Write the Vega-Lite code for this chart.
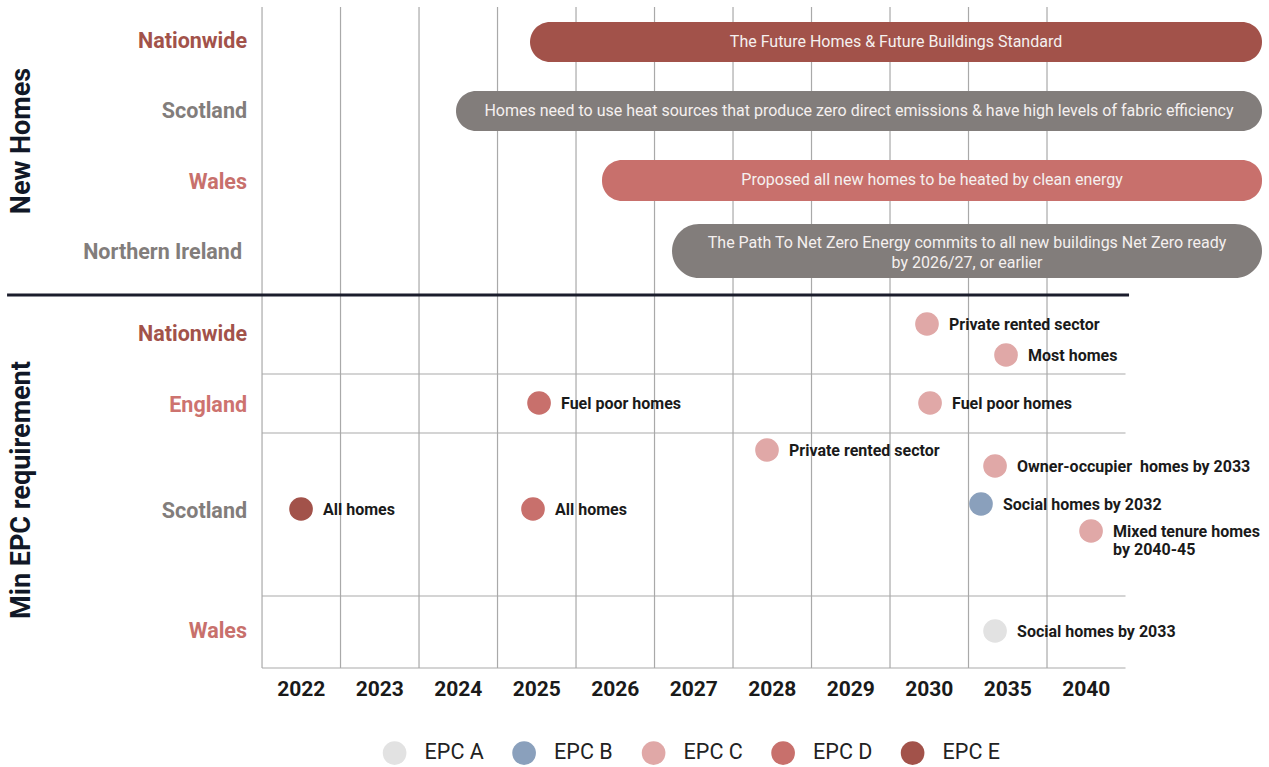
{
  "$schema": "https://vega.github.io/schema/vega-lite/v6.json",
  "width": 1269,
  "height": 767,
  "autosize": {"type": "fit", "contains": "padding"},
  "padding": 0,
  "background": "white",
  "config": {"view": {"stroke": null}, "font": "Roboto"},
  "datasets": {
    "rules": [
      {"kind": "grid", "x": 0, "x2": 0, "y": 7, "y2": 668},
      {"kind": "grid", "x": 1, "x2": 1, "y": 7, "y2": 668},
      {"kind": "grid", "x": 2, "x2": 2, "y": 7, "y2": 668},
      {"kind": "grid", "x": 3, "x2": 3, "y": 7, "y2": 668},
      {"kind": "grid", "x": 4, "x2": 4, "y": 7, "y2": 668},
      {"kind": "grid", "x": 5, "x2": 5, "y": 7, "y2": 668},
      {"kind": "grid", "x": 6, "x2": 6, "y": 7, "y2": 668},
      {"kind": "grid", "x": 7, "x2": 7, "y": 7, "y2": 668},
      {"kind": "grid", "x": 8, "x2": 8, "y": 7, "y2": 668},
      {"kind": "grid", "x": 9, "x2": 9, "y": 7, "y2": 668},
      {"kind": "grid", "x": 10, "x2": 10, "y": 7, "y2": 668},
      {"kind": "grid", "x": 0, "x2": 11, "y": 374, "y2": 374},
      {"kind": "grid", "x": 0, "x2": 11, "y": 433, "y2": 433},
      {"kind": "grid", "x": 0, "x2": 11, "y": 596, "y2": 596},
      {"kind": "grid", "x": 0, "x2": 11, "y": 668, "y2": 668},
      {"kind": "divider", "x": -3.248, "x2": 11.045, "y": 295, "y2": 295}
    ],
    "bars": [
      {"region": "Nationwide", "start": 3.414, "end": 12.739, "top": 22, "bottom": 62, "label": "The Future Homes & Future Buildings Standard"},
      {"region": "Scotland", "start": 2.471, "end": 12.739, "top": 91, "bottom": 131, "label": "Homes need to use heat sources that produce zero direct emissions & have high levels of fabric efficiency"},
      {"region": "Wales", "start": 4.331, "end": 12.739, "top": 160, "bottom": 201, "label": "Proposed all new homes to be heated by clean energy"},
      {"region": "Northern Ireland", "start": 5.223, "end": 12.739, "top": 224, "bottom": 278, "label": "The Path To Net Zero Energy commits to all new buildings Net Zero ready\nby 2026/27, or earlier"}
    ],
    "points": [
      {"region": "Nationwide", "x": 8.471, "y": 324, "epc": "EPC C", "label": "Private rented sector"},
      {"region": "Nationwide", "x": 9.478, "y": 355, "epc": "EPC C", "label": "Most homes"},
      {"region": "England", "x": 3.529, "y": 403, "epc": "EPC D", "label": "Fuel poor homes"},
      {"region": "England", "x": 8.51, "y": 403, "epc": "EPC C", "label": "Fuel poor homes"},
      {"region": "Scotland", "x": 6.433, "y": 450, "epc": "EPC C", "label": "Private rented sector"},
      {"region": "Scotland", "x": 9.338, "y": 466, "epc": "EPC C", "label": "Owner-occupier\u00a0 homes by 2033"},
      {"region": "Scotland", "x": 9.159, "y": 504, "epc": "EPC B", "label": "Social homes by 2032"},
      {"region": "Scotland", "x": 10.561, "y": 531, "epc": "EPC C", "label": "Mixed tenure homes\nby 2040-45"},
      {"region": "Scotland", "x": 0.497, "y": 509, "epc": "EPC E", "label": "All homes"},
      {"region": "Scotland", "x": 3.452, "y": 509, "epc": "EPC D", "label": "All homes"},
      {"region": "Wales", "x": 9.338, "y": 631, "epc": "EPC A", "label": "Social homes by 2033"}
    ],
    "rowlabels": [
      {"region": "Nationwide", "x": -0.191, "y": 41},
      {"region": "Scotland", "x": -0.191, "y": 111},
      {"region": "Wales", "x": -0.191, "y": 182},
      {"region": "Northern Ireland", "x": -0.255, "y": 252},
      {"region": "Nationwide", "x": -0.191, "y": 334},
      {"region": "England", "x": -0.191, "y": 405},
      {"region": "Scotland", "x": -0.191, "y": 511},
      {"region": "Wales", "x": -0.191, "y": 631}
    ],
    "years": [
      {"year": "2022", "x": 0.5, "y": 690},
      {"year": "2023", "x": 1.5, "y": 690},
      {"year": "2024", "x": 2.5, "y": 690},
      {"year": "2025", "x": 3.5, "y": 690},
      {"year": "2026", "x": 4.5, "y": 690},
      {"year": "2027", "x": 5.5, "y": 690},
      {"year": "2028", "x": 6.5, "y": 690},
      {"year": "2029", "x": 7.5, "y": 690},
      {"year": "2030", "x": 8.5, "y": 690},
      {"year": "2035", "x": 9.5, "y": 690},
      {"year": "2040", "x": 10.5, "y": 690}
    ],
    "groups": [
      {"title": "New Homes", "x": -3.057, "y": 141},
      {"title": "Min EPC requirement", "x": -3.057, "y": 490}
    ]
  },
  "layer": [
    {
      "data": {"name": "rules"},
      "transform": [{"filter": "datum.kind === 'grid'"}],
      "mark": {"type": "rule", "color": "#a9a9a9", "strokeWidth": 1.2},
      "encoding": {
        "x": {"field": "x", "type": "quantitative", "scale": {"domain": [-3.338, 12.828], "nice": false, "zero": false}, "axis": null},
        "x2": {"field": "x2"},
        "y": {"field": "y", "type": "quantitative", "scale": {"domain": [0, 767], "reverse": true, "nice": false, "zero": false}, "axis": null},
        "y2": {"field": "y2"}
      }
    },
    {
      "data": {"name": "rules"},
      "transform": [{"filter": "datum.kind === 'divider'"}],
      "mark": {"type": "rule", "color": "#1b1d2c", "strokeWidth": 3},
      "encoding": {
        "x": {"field": "x", "type": "quantitative", "scale": {"domain": [-3.338, 12.828], "nice": false, "zero": false}, "axis": null},
        "x2": {"field": "x2"},
        "y": {"field": "y", "type": "quantitative", "scale": {"domain": [0, 767], "reverse": true, "nice": false, "zero": false}, "axis": null},
        "y2": {"field": "y2"}
      }
    },
    {
      "data": {"name": "bars"},
      "transform": [{"filter": "datum.region !== 'Northern Ireland'"}],
      "mark": {"type": "rect", "cornerRadius": 20},
      "encoding": {
        "x": {"field": "start", "type": "quantitative", "scale": {"domain": [-3.338, 12.828], "nice": false, "zero": false}, "axis": null},
        "x2": {"field": "end"},
        "y": {"field": "top", "type": "quantitative", "scale": {"domain": [0, 767], "reverse": true, "nice": false, "zero": false}, "axis": null},
        "y2": {"field": "bottom"},
        "fill": {"field": "region", "type": "nominal", "legend": null, "scale": {"domain": ["Nationwide", "Scotland", "Wales", "Northern Ireland", "England"], "range": ["#a2524a", "#827d7b", "#c8706c", "#827d7b", "#cd736f"]}}
      }
    },
    {
      "data": {"name": "bars"},
      "transform": [{"filter": "datum.region === 'Northern Ireland'"}],
      "mark": {"type": "rect", "cornerRadius": 27},
      "encoding": {
        "x": {"field": "start", "type": "quantitative", "scale": {"domain": [-3.338, 12.828], "nice": false, "zero": false}, "axis": null},
        "x2": {"field": "end"},
        "y": {"field": "top", "type": "quantitative", "scale": {"domain": [0, 767], "reverse": true, "nice": false, "zero": false}, "axis": null},
        "y2": {"field": "bottom"},
        "fill": {"field": "region", "type": "nominal", "legend": null}
      }
    },
    {
      "data": {"name": "bars"},
      "transform": [
        {"filter": "datum.region !== 'Northern Ireland'"},
        {"calculate": "(datum.start + datum.end) / 2", "as": "mid"},
        {"calculate": "(datum.top + datum.bottom) / 2", "as": "midy"}
      ],
      "mark": {"type": "text", "font": "Roboto", "fontSize": 16, "color": "#f5f0ef", "align": "center", "baseline": "middle", "dy": -0.5},
      "encoding": {
        "x": {"field": "mid", "type": "quantitative", "scale": {"domain": [-3.338, 12.828], "nice": false, "zero": false}, "axis": null},
        "y": {"field": "midy", "type": "quantitative", "scale": {"domain": [0, 767], "reverse": true, "nice": false, "zero": false}, "axis": null},
        "text": {"field": "label"}
      }
    },
    {
      "data": {"name": "bars"},
      "transform": [
        {"filter": "datum.region === 'Northern Ireland'"},
        {"calculate": "(datum.start + datum.end) / 2", "as": "mid"},
        {"calculate": "(datum.top + datum.bottom) / 2", "as": "midy"}
      ],
      "mark": {"type": "text", "font": "Roboto", "fontSize": 16, "color": "#f5f0ef", "align": "center", "baseline": "middle", "lineBreak": "\n", "lineHeight": 20, "dy": -8},
      "encoding": {
        "x": {"field": "mid", "type": "quantitative", "scale": {"domain": [-3.338, 12.828], "nice": false, "zero": false}, "axis": null},
        "y": {"field": "midy", "type": "quantitative", "scale": {"domain": [0, 767], "reverse": true, "nice": false, "zero": false}, "axis": null},
        "text": {"field": "label"}
      }
    },
    {
      "data": {"name": "points"},
      "mark": {"type": "point", "filled": true, "opacity": 1, "size": 560, "shape": "circle"},
      "encoding": {
        "x": {"field": "x", "type": "quantitative", "scale": {"domain": [-3.338, 12.828], "nice": false, "zero": false}, "axis": null},
        "y": {"field": "y", "type": "quantitative", "scale": {"domain": [0, 767], "reverse": true, "nice": false, "zero": false}, "axis": null},
        "color": {
          "field": "epc", "type": "nominal",
          "scale": {"domain": ["EPC A", "EPC B", "EPC C", "EPC D", "EPC E"], "range": ["#e2e2e2", "#8aa0bc", "#e0a8a7", "#c8706c", "#a2524a"]},
          "legend": {
            "title": null, "orient": "none", "legendX": 382.6, "legendY": 741, "direction": "horizontal", "columns": 5,
            "gridAlign": "all", "columnPadding": 27.5, "padding": 0,
            "symbolType": "circle", "symbolSize": 560, "symbolStrokeWidth": 0, "symbolOpacity": 1,
            "labelFont": "Roboto", "labelFontSize": 21.5, "labelColor": "#222222", "labelOffset": 18
          }
        }
      }
    },
    {
      "data": {"name": "points"},
      "mark": {"type": "text", "font": "Roboto", "fontWeight": "bold", "fontSize": 16, "color": "#1a1a1a", "align": "left", "baseline": "middle", "dx": 22, "dy": 0.5, "lineBreak": "\n", "lineHeight": 18},
      "encoding": {
        "x": {"field": "x", "type": "quantitative", "scale": {"domain": [-3.338, 12.828], "nice": false, "zero": false}, "axis": null},
        "y": {"field": "y", "type": "quantitative", "scale": {"domain": [0, 767], "reverse": true, "nice": false, "zero": false}, "axis": null},
        "text": {"field": "label"}
      }
    },
    {
      "data": {"name": "rowlabels"},
      "mark": {"type": "text", "font": "Roboto", "fontWeight": "bold", "fontSize": 21.5, "align": "right", "baseline": "middle", "dy": 1},
      "encoding": {
        "x": {"field": "x", "type": "quantitative", "scale": {"domain": [-3.338, 12.828], "nice": false, "zero": false}, "axis": null},
        "y": {"field": "y", "type": "quantitative", "scale": {"domain": [0, 767], "reverse": true, "nice": false, "zero": false}, "axis": null},
        "text": {"field": "region"},
        "fill": {"field": "region", "type": "nominal", "legend": null}
      }
    },
    {
      "data": {"name": "years"},
      "mark": {"type": "text", "font": "Roboto", "fontWeight": "bold", "fontSize": 21, "color": "#1a1a1a", "align": "center", "baseline": "middle"},
      "encoding": {
        "x": {"field": "x", "type": "quantitative", "scale": {"domain": [-3.338, 12.828], "nice": false, "zero": false}, "axis": null},
        "y": {"field": "y", "type": "quantitative", "scale": {"domain": [0, 767], "reverse": true, "nice": false, "zero": false}, "axis": null},
        "text": {"field": "year"}
      }
    },
    {
      "data": {"name": "groups"},
      "mark": {"type": "text", "font": "Roboto", "fontWeight": "bold", "fontSize": 27, "color": "#111827", "align": "center", "baseline": "middle", "angle": 270},
      "encoding": {
        "x": {"field": "x", "type": "quantitative", "scale": {"domain": [-3.338, 12.828], "nice": false, "zero": false}, "axis": null},
        "y": {"field": "y", "type": "quantitative", "scale": {"domain": [0, 767], "reverse": true, "nice": false, "zero": false}, "axis": null},
        "text": {"field": "title"}
      }
    }
  ]
}
